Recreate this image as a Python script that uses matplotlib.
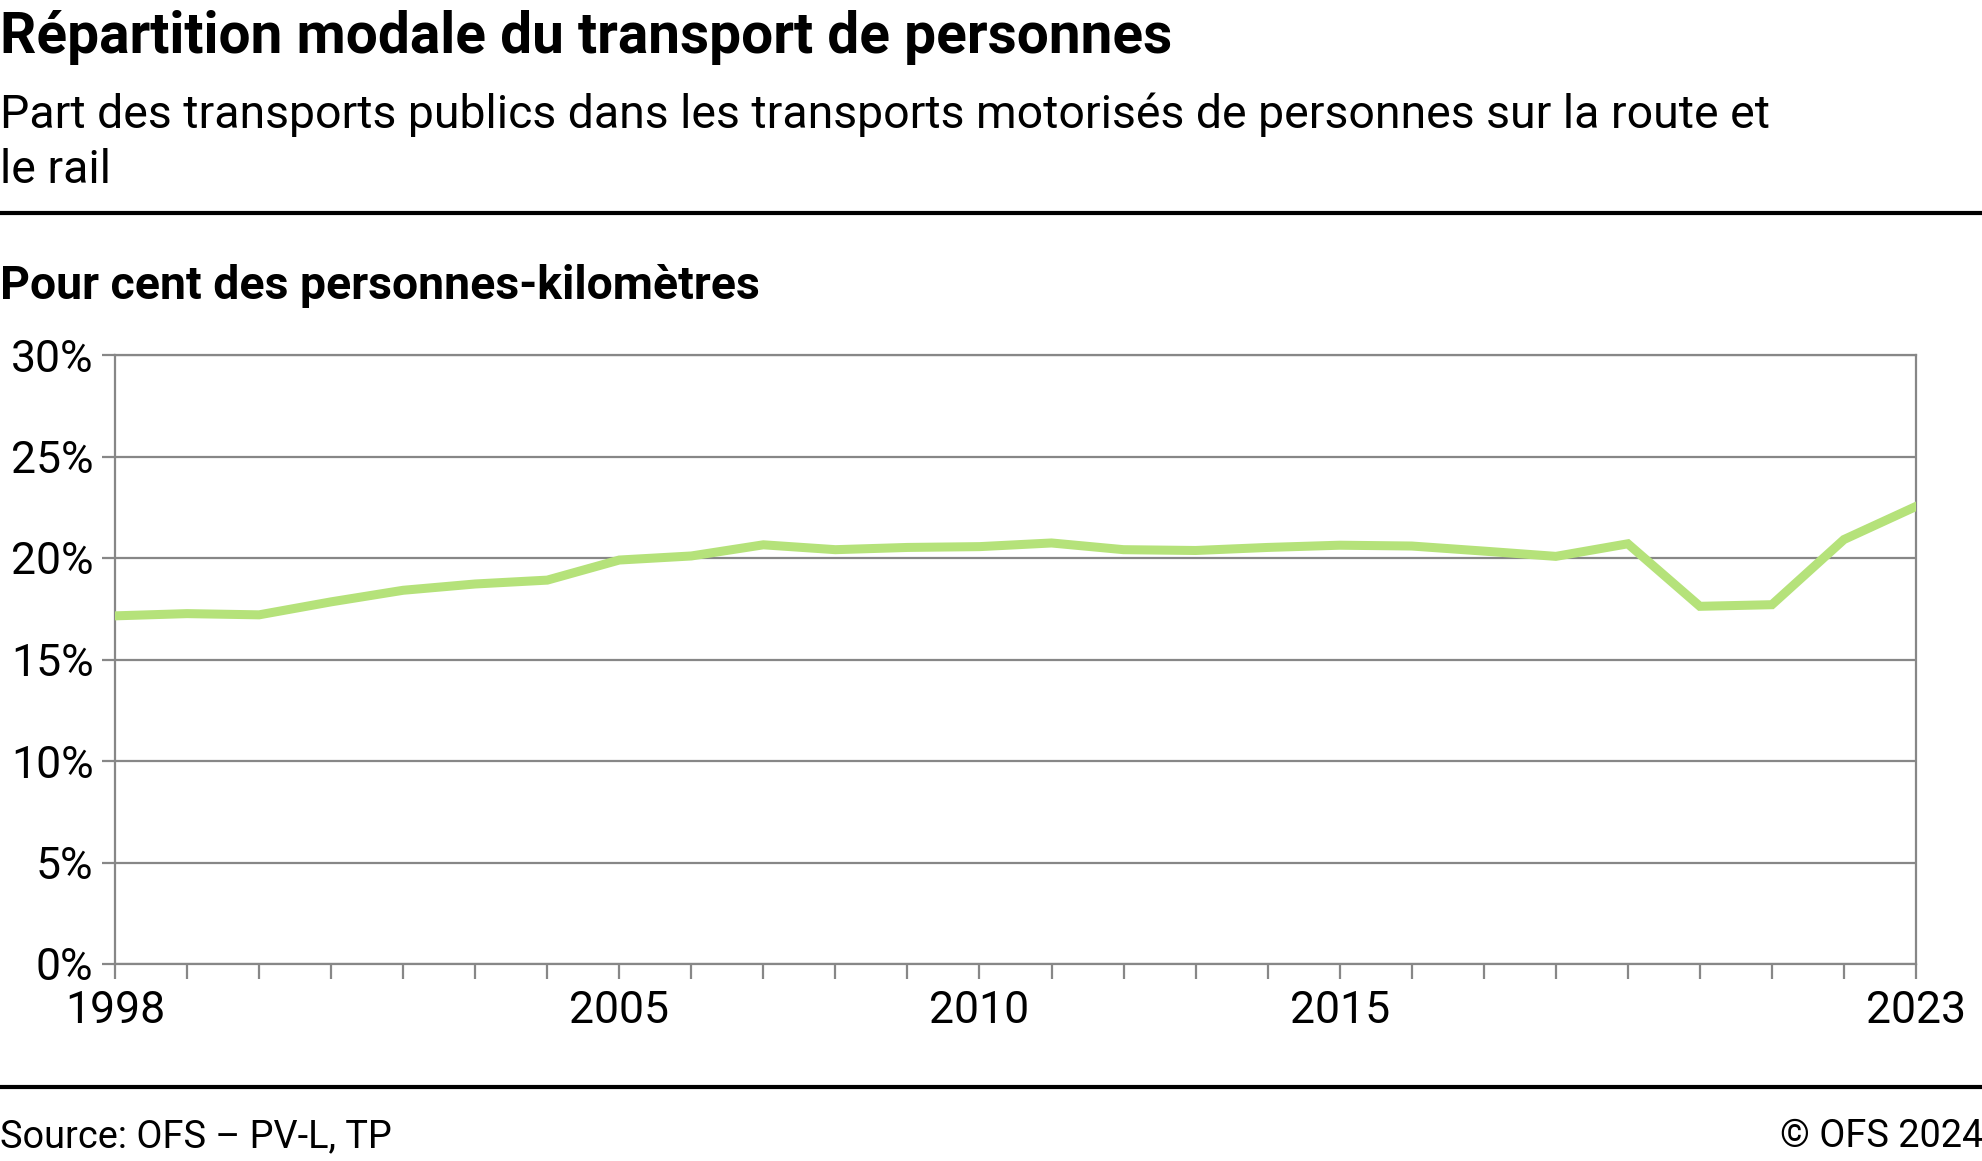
import numpy as np
import matplotlib
matplotlib.use("Agg")
import matplotlib.pyplot as plt
from matplotlib.lines import Line2D
from matplotlib.ticker import FixedLocator, FuncFormatter

plt.rcParams['font.family'] = ['Roboto', 'DejaVu Sans']

# data
years = list(range(1998, 2024))
share = [17.15, 17.26, 17.2, 17.84, 18.41, 18.72, 18.91, 19.9, 20.1,
         20.65, 20.41, 20.52, 20.56, 20.74, 20.41, 20.37, 20.52, 20.63,
         20.59, 20.34, 20.08, 20.7, 17.62, 17.7, 20.91, 22.54]
labeled_years = [1998, 2005, 2010, 2015, 2023]
y_ticks = [0, 5, 10, 15, 20, 25, 30]

title = "Répartition modale du transport de personnes"
subtitle1 = "Part des transports publics dans les transports motorisés de personnes sur la route et"
subtitle2 = "le rail"
unit_label = "Pour cent des personnes-kilomètres"
source = "Source: OFS – PV-L, TP"
copyright_txt = "© OFS 2024"

W, H = 1983, 1161
fig = plt.figure(figsize=(W / 100, H / 100), dpi=100)

def fy(px):
    # pixel row from top -> figure fraction
    return 1 - px / H

grey = '#878787'
green = '#b5e27a'

####axes####
left, right, top, bottom = 115, 1916, 355, 964
ax = fig.add_axes([left / W, fy(bottom), (right - left) / W, (bottom - top) / H])
ax.plot(years, share, color=green, lw=6.5, solid_joinstyle='miter', zorder=3)
ax.set_xlim(1998, 2023)
ax.set_ylim(0, 30)

ax.yaxis.set_major_locator(FixedLocator(y_ticks))
ax.yaxis.set_major_formatter(FuncFormatter(lambda v, p: "%d%%" % v))
ax.xaxis.set_major_locator(FixedLocator(labeled_years))
ax.xaxis.set_minor_locator(FixedLocator(years))
ax.xaxis.set_major_formatter(FuncFormatter(lambda v, p: "%d" % v))

ax.grid(axis='y', color=grey, lw=1.6, zorder=1)
ax.set_axisbelow(True)
for s in ['left', 'right', 'bottom', 'top']:
    ax.spines[s].set_color(grey)
    ax.spines[s].set_linewidth(1.6)

ax.tick_params(axis='y', length=9.5, width=1.6, color=grey, pad=6,
               labelsize=32, labelcolor='black')
ax.tick_params(axis='x', which='both', length=10.5, width=1.6, color=grey,
               direction='out', pad=8, labelsize=32, labelcolor='black')

####text####
fig.text(0, fy(53), title, fontsize=40.9, fontweight='bold', va='baseline', ha='left')
fig.text(0, fy(128), subtitle1, fontsize=33.4, va='baseline', ha='left')
fig.text(0, fy(183), subtitle2, fontsize=33.4, va='baseline', ha='left')
fig.text(0, fy(299), unit_label, fontsize=33.4, fontweight='bold', va='baseline', ha='left')
fig.text(0, fy(1147), source, fontsize=27.3, va='baseline', ha='left')
fig.text(1, fy(1147), copyright_txt, fontsize=27.3, va='baseline', ha='right')

####rules####
for yy in [213, 1087]:
    fig.add_artist(Line2D([0, 1], [fy(yy), fy(yy)], color='black', lw=3,
                          transform=fig.transFigure))

fig.savefig("out.png", dpi=100, facecolor='white')
